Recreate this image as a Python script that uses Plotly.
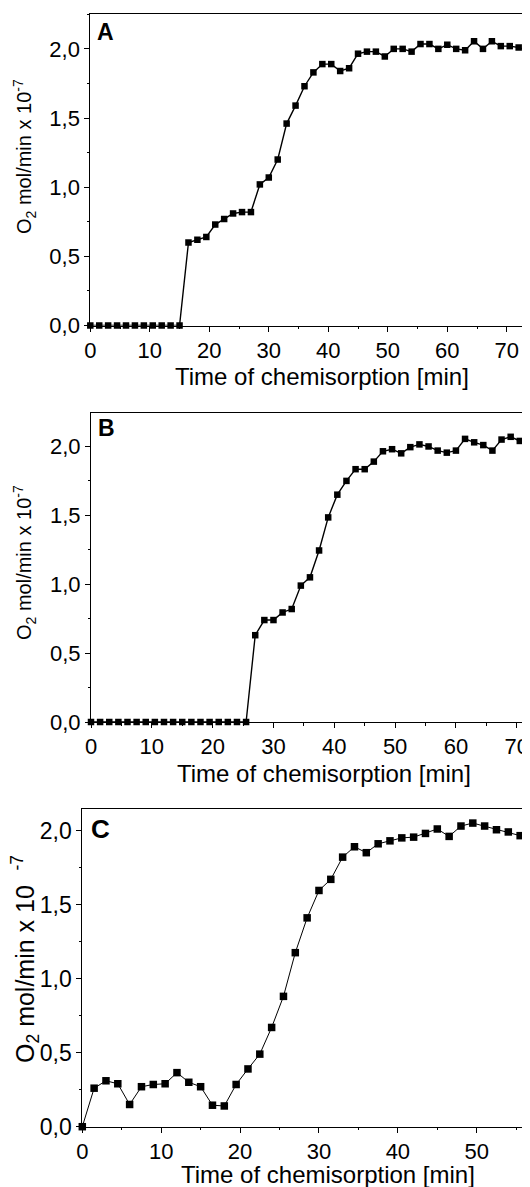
import plotly.graph_objects as go

# ---------------- data ----------------
a_time = [0, 1.5, 3, 4.5, 6, 7.5, 9, 10.5, 12, 13.5, 15, 16.5, 18, 19.5, 21, 22.5, 24, 25.5,
          27, 28.5, 30, 31.5, 33, 34.5, 36, 37.5, 39, 40.5, 42, 43.5, 45, 46.5, 48, 49.5,
          51, 52.5, 54, 55.5, 57, 58.5, 60, 61.5, 63, 64.5, 66, 67.5, 69, 70.5, 72, 73.5]
a_rate = [0, 0, 0, 0, 0, 0, 0, 0, 0, 0, 0,
          0.60, 0.62, 0.64, 0.73, 0.77, 0.81, 0.82, 0.82,
          1.02, 1.07, 1.20, 1.46, 1.59, 1.73, 1.83, 1.89, 1.89, 1.84, 1.86,
          1.965, 1.98, 1.98, 1.945, 2.00, 2.00, 1.98, 2.035, 2.035, 2.00,
          2.03, 2.00, 1.99, 2.055, 2.00, 2.055, 2.02, 2.02, 2.01, 1.985]

b_time = [0, 1.5, 3, 4.5, 6, 7.5, 9, 10.5, 12, 13.5, 15, 16.5, 18, 19.5, 21, 22.5, 24, 25.5,
          27, 28.5, 30, 31.5, 33, 34.5, 36, 37.5, 39, 40.5, 42, 43.5, 45, 46.5, 48, 49.5,
          51, 52.5, 54, 55.5, 57, 58.5, 60, 61.5, 63, 64.5, 66, 67.5, 69, 70.5, 72]
b_rate = [0, 0, 0, 0, 0, 0, 0, 0, 0, 0, 0, 0, 0, 0, 0, 0, 0, 0,
          0.63, 0.74, 0.74, 0.795, 0.82,
          0.99, 1.05, 1.245, 1.485, 1.65, 1.75, 1.835, 1.835, 1.89, 1.965, 1.98, 1.95,
          1.995, 2.015, 2.00, 1.97, 1.955, 1.97, 2.055, 2.03, 2.01, 1.97, 2.05, 2.07,
          2.04, 2.04]

c_time = [0, 1.5, 3, 4.5, 6, 7.5, 9, 10.5, 12, 13.5, 15, 16.5, 18, 19.5, 21, 22.5, 24, 25.5,
          27, 28.5, 30, 31.5, 33, 34.5, 36, 37.5, 39, 40.5, 42, 43.5, 45, 46.5, 48, 49.5,
          51, 52.5, 54, 55.5, 57]
c_rate = [0, 0.26, 0.31, 0.29, 0.15, 0.27, 0.285, 0.29, 0.365, 0.30, 0.27, 0.145, 0.14,
          0.285, 0.39, 0.49, 0.67, 0.88,
          1.175, 1.41, 1.595, 1.67, 1.82, 1.89, 1.85, 1.91, 1.93, 1.95, 1.955, 1.98,
          2.01, 1.96, 2.03, 2.05, 2.03, 2.005, 1.99, 1.965, 2.02]

panel_labels = ["A", "B", "C"]
x_title = "Time of chemisorption [min]"
y_title_ab = "O<sub>2</sub> mol/min x 10<sup>-7</sup>"
y_title_c = "O<sub>2</sub> mol/min x 10<sup>\u00a0\u00a0\u00a0-7</sup>"

# ---------------- layout helpers ----------------
# the page body has an 8px default margin, so the figure is sized to fit the window
OFF = 8
W, H = 530 - OFF, 1187 - OFF
FONT = "Liberation Sans, Arial, sans-serif"


def px_x(p):
    return min(1.0, (p - OFF) / W)


def px_y(p):
    return 1 - (p - OFF) / H


fig = go.Figure()

panels = [
    dict(t=a_time, v=a_rate, xd=[px_x(90.3), px_x(527.3)], yd=[px_y(325.5), px_y(14.3)],
         xr=[0, 73.45], yr=[0, 2.25], xdt=10, ms=6.5, lw=1.4, fs=22, xfs=22, mirror_y=True),
    dict(t=b_time, v=b_rate, xd=[px_x(91), px_x(527.7)], yd=[px_y(722), px_y(412.7)],
         xr=[0, 71.8], yr=[0, 2.245], xdt=10, ms=6.5, lw=1.4, fs=22, xfs=22, mirror_y=True),
    dict(t=c_time, v=c_rate, xd=[px_x(82.3), 1.0], yd=[px_y(1126.7), px_y(808.7)],
         xr=[0, 56.75], yr=[0, 2.147], xdt=10, ms=7.5, lw=1.0, fs=23, xfs=22, mirror_y=False),
]

for i, p in enumerate(panels, start=1):
    sfx = "" if i == 1 else str(i)
    fig.add_trace(go.Scatter(
        x=p["t"], y=p["v"], mode="lines+markers",
        xaxis="x" + sfx, yaxis="y" + sfx,
        line=dict(color="black", width=p["lw"]),
        marker=dict(symbol="square", size=p["ms"], color="black", line=dict(width=0)),
        cliponaxis=False, showlegend=False, hoverinfo="skip",
    ))
    axis_common = dict(
        showline=True, linecolor="black", linewidth=1, automargin=False,
        ticks="outside", ticklen=5, tickwidth=1, tickcolor="black",
        showgrid=False, zeroline=False,
    )
    fig.update_layout(**{
        "xaxis" + sfx: dict(
            domain=p["xd"], range=p["xr"], anchor="y" + sfx, mirror=True,
            tickmode="linear", tick0=0, dtick=p["xdt"],
            tickfont=dict(family=FONT, size=p["xfs"], color="black"),
            minor=dict(dtick=p["xdt"] / 2, tick0=0, ticks="outside", ticklen=2.5,
                       tickcolor="black", showgrid=False),
            **axis_common),
        "yaxis" + sfx: dict(
            domain=p["yd"], range=p["yr"], anchor="x" + sfx, mirror=p["mirror_y"],
            tickmode="linear", tick0=0, dtick=0.5, tickformat=".1f",
            tickfont=dict(family=FONT, size=p["fs"], color="black"),
            minor=dict(dtick=0.25, tick0=0, ticks="outside", ticklen=2.5,
                       tickcolor="black", showgrid=False),
            **axis_common),
    })

annotations = []
# panel letters
for lab, (lx, ly, sz) in zip(panel_labels, [(95, 32, 23), (96, 428, 23), (89, 829, 26)]):
    annotations.append(dict(text="<b>%s</b>" % lab, xref="paper", yref="paper",
                            x=px_x(lx), y=px_y(ly), xanchor="left", yanchor="middle",
                            showarrow=False, font=dict(family=FONT, size=sz, color="black")))
# x titles
for (cx, cy, sz) in [(322, 377, 24), (324, 773, 24), (328, 1174, 24)]:
    annotations.append(dict(text=x_title, xref="paper", yref="paper",
                            x=px_x(cx), y=px_y(cy), xanchor="center", yanchor="middle",
                            showarrow=False, font=dict(family=FONT, size=sz, color="black")))
# y titles
for (txt, cx, cy, sz) in [(y_title_ab, 25, 157, 20), (y_title_ab, 25, 563, 20),
                          (y_title_c, 25, 959, 25)]:
    annotations.append(dict(text=txt, xref="paper", yref="paper", textangle=-90,
                            x=px_x(cx), y=px_y(cy), xanchor="center", yanchor="middle",
                            showarrow=False, font=dict(family=FONT, size=sz, color="black")))

fig.update_layout(
    template="none",
    width=W, height=H, margin=dict(l=0, r=0, t=0, b=0),
    paper_bgcolor="white", plot_bgcolor="white",
    separators=",.", annotations=annotations, showlegend=False,
)

fig.write_html("out.html")
